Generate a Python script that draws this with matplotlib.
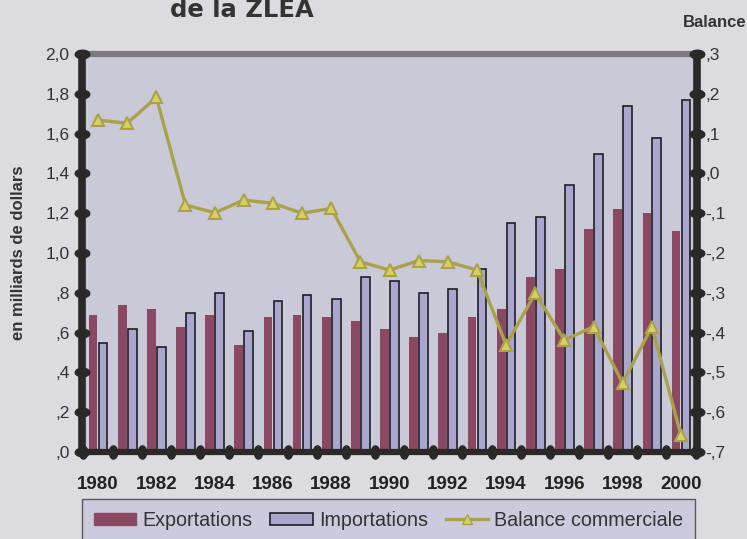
import numpy as np
import matplotlib
matplotlib.use("Agg")
import matplotlib.pyplot as plt
from matplotlib.path import Path
from matplotlib.lines import Line2D
from matplotlib.patches import Patch

plt.rcParams['font.family'] = ['Liberation Sans', 'DejaVu Sans']

years = list(range(1980, 2001))
exportations = [0.69, 0.74, 0.72, 0.63, 0.69, 0.54, 0.68, 0.69, 0.68, 0.66, 0.62,
                0.58, 0.60, 0.68, 0.72, 0.88, 0.92, 1.12, 1.22, 1.20, 1.11]
importations = [0.55, 0.62, 0.53, 0.70, 0.80, 0.61, 0.76, 0.79, 0.77, 0.88, 0.86,
                0.80, 0.82, 0.92, 1.15, 1.18, 1.34, 1.50, 1.74, 1.58, 1.77]
balance = [0.134, 0.126, 0.191, -0.079, -0.099, -0.067, -0.075, -0.100, -0.088, -0.222, -0.243,
           -0.219, -0.222, -0.243, -0.431, -0.301, -0.419, -0.385, -0.527, -0.385, -0.658]

left_ticks = [0.0, 0.2, 0.4, 0.6, 0.8, 1.0, 1.2, 1.4, 1.6, 1.8, 2.0]
left_labels = [',0', ',2', ',4', ',6', ',8', '1,0', '1,2', '1,4', '1,6', '1,8', '2,0']
right_ticks = [-0.7, -0.6, -0.5, -0.4, -0.3, -0.2, -0.1, 0.0, 0.1, 0.2, 0.3]
right_labels = ['-,7', '-,6', '-,5', '-,4', '-,3', '-,2', '-,1', ',0', ',1', ',2', ',3']
year_labels = [str(y) for y in years[::2]]

c_exp = '#8a4862'
c_imp = '#aaa7cf'
c_bal = '#a9a24a'
c_fill = '#d6cf62'
c_dark = '#2b2828'
fig_bg = '#dcdce0'
ax_bg = '#c9c9d8'

fig = plt.figure(figsize=(7.47, 5.39), dpi=100, facecolor=fig_bg)
ax = fig.add_axes([0.1098, 0.1614, 0.8233, 0.7384])
ax.set_facecolor(ax_bg)

x = np.arange(len(years))
w = 0.30
ax.bar(x - w / 2 - 0.02, exportations, width=w, color=c_exp, zorder=2)
ax.bar(x + w / 2 + 0.02, importations, width=w, color=c_imp, edgecolor='#1e1e24',
       linewidth=1.2, zorder=2)

ax.set_xlim(-0.55, len(years) - 0.45)
ax.set_ylim(0, 2.0)
ax.set_yticks(left_ticks)
ax.set_yticklabels(left_labels, fontsize=12.5, color='#333333')
ax.set_xticks(x[::2])
ax.set_xticklabels(year_labels, fontsize=13.5, fontweight='bold', color='#222222')
ax.tick_params(axis='y', length=0, pad=9)
ax.tick_params(axis='x', length=0, pad=17)
ax.set_ylabel('en milliards de dollars', fontsize=12, fontweight='bold', color='#333333', labelpad=14)

ax2 = ax.twinx()
ax2.set_ylim(-0.7, 0.3)
ax2.plot(x, balance, color=c_bal, lw=2.4, marker='^', markersize=9,
         markerfacecolor=c_fill, markeredgecolor=c_bal, markeredgewidth=1.5, zorder=5)
ax2.set_yticks(right_ticks)
ax2.set_yticklabels(right_labels, fontsize=12.5, color='#333333')
ax2.tick_params(axis='y', length=0, pad=6)

for a in (ax, ax2):
    for s in a.spines.values():
        s.set_visible(False)
for side, lw, col in [('left', 5.5, c_dark), ('right', 5.5, c_dark),
                      ('bottom', 4.5, c_dark), ('top', 4.5, '#7f7a79')]:
    ax2.spines[side].set_visible(True)
    ax2.spines[side].set_linewidth(lw)
    ax2.spines[side].set_color(col)

# capsule shaped tick marks
t = np.linspace(0, 2 * np.pi, 40)
h_caps = Path(np.column_stack([1.7 * np.cos(t), np.sin(t)]))
v_caps = Path(np.column_stack([np.cos(t), 1.6 * np.sin(t)]))
ax2.plot([0] * len(left_ticks), np.linspace(0, 1, len(left_ticks)), ls='none',
         marker=h_caps, markersize=10.5, color=c_dark, transform=ax2.transAxes, clip_on=False, zorder=6)
ax2.plot([1] * len(right_ticks), np.linspace(0, 1, len(right_ticks)), ls='none',
         marker=h_caps, markersize=10.5, color=c_dark, transform=ax2.transAxes, clip_on=False, zorder=6)
bx = np.arange(len(years) + 1) - 0.5
ax2.plot(bx, [-0.7] * len(bx), ls='none', marker=v_caps, markersize=9.5, color=c_dark,
         clip_on=False, zorder=6)

fig.text(242 / 747, 1 - 17 / 539, 'de la ZLEA', fontsize=17.5, fontweight='bold', color='#333333',
         ha='center', va='baseline', family=['DejaVu Sans'])
fig.text(746 / 747, 1 - 27 / 539, 'Balance', fontsize=12, fontweight='bold', color='#333333',
         ha='right', va='baseline')

handles = [Patch(facecolor=c_exp, edgecolor=c_exp),
           Patch(facecolor=c_imp, edgecolor='#1e1e24', linewidth=1.2),
           Line2D([], [], color=c_bal, lw=2.4, marker='^', markersize=7,
                  markerfacecolor=c_fill, markeredgecolor=c_bal)]
leg = fig.legend(handles, ['Exportations', 'Importations', 'Balance commerciale'],
                 loc='upper left', bbox_to_anchor=(82 / 747, 1 - 499 / 539 - 0.01, 613 / 747, 0.01),
                 mode='expand', ncol=3, fontsize=14.2, frameon=True, fancybox=False,
                 handlelength=2.15, handleheight=0.55, handletextpad=0.3, columnspacing=0.8,
                 borderpad=0.6, borderaxespad=0)
leg.get_frame().set_facecolor('#c8c6dd')
leg.get_frame().set_edgecolor('#3a3a3a')
leg.get_frame().set_linewidth(1.0)
for txt in leg.get_texts():
    txt.set_color('#333333')

fig.savefig('out.png', dpi=100, facecolor=fig_bg)
